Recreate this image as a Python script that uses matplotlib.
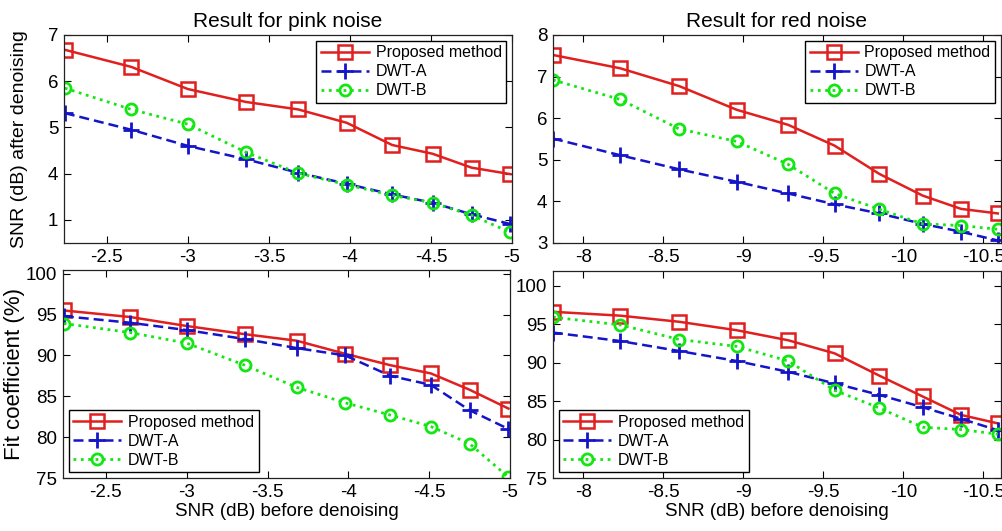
import numpy as np
import matplotlib
matplotlib.use("Agg")
import matplotlib.pyplot as plt

plt.rcParams["font.family"] = ["Liberation Sans", "DejaVu Sans"]

# input SNR (dB) for each noise type
snr_pink = [-2.24, -2.65, -3.0, -3.36, -3.68, -3.98, -4.26, -4.51, -4.75, -4.99]
snr_red = [-7.81, -8.23, -8.6, -8.96, -9.28, -9.57, -9.85, -10.12, -10.36, -10.59]

# output SNR (dB) after denoising
pink_snr_prop = [6.68, 6.31, 5.83, 5.55, 5.39, 5.10, 4.62, 4.43, 4.13, 3.99]
pink_snr_a = [5.31, 4.95, 4.60, 4.31, 4.02, 3.78, 3.55, 3.37, 3.12, 2.91]
pink_snr_b = [5.85, 5.39, 5.07, 4.46, 4.01, 3.76, 3.53, 3.37, 3.10, 2.73]

red_snr_prop = [7.52, 7.20, 6.77, 6.20, 5.84, 5.34, 4.66, 4.14, 3.82, 3.71]
red_snr_a = [5.51, 5.11, 4.77, 4.47, 4.19, 3.93, 3.71, 3.46, 3.27, 3.06]
red_snr_b = [6.92, 6.45, 5.74, 5.44, 4.89, 4.19, 3.81, 3.46, 3.42, 3.33]

# fit coefficient (%)
pink_fit_prop = [95.5, 94.7, 93.6, 92.6, 91.8, 90.2, 88.8, 87.8, 85.8, 83.5]
pink_fit_a = [94.8, 94.0, 93.1, 92.0, 90.9, 90.0, 87.5, 86.4, 83.3, 81.0]
pink_fit_b = [93.9, 92.8, 91.5, 88.8, 86.1, 84.2, 82.7, 81.3, 79.2, 75.1]

red_fit_prop = [96.6, 96.1, 95.3, 94.2, 92.9, 91.2, 88.3, 85.6, 83.2, 82.1]
red_fit_a = [93.9, 92.8, 91.5, 90.2, 88.8, 87.3, 85.8, 84.2, 82.7, 81.2]
red_fit_b = [95.9, 94.9, 93.0, 92.1, 90.2, 86.4, 84.1, 81.6, 81.3, 80.7]

labels = ["Proposed method", "DWT-A", "DWT-B"]
pink_xticks = [-2.5, -3, -3.5, -4, -4.5, -5]
pink_xticklabels = ["-2.5", "-3", "-3.5", "-4", "-4.5", "-5"]
red_xticks = [-8, -8.5, -9, -9.5, -10, -10.5]
red_xticklabels = ["-8", "-8.5", "-9", "-9.5", "-10", "-10.5"]
pink_yticks = [3, 4, 5, 6, 7]
pink_yticklabels = ["1", "4", "5", "6", "7"]
red_yticks = [3, 4, 5, 6, 7, 8]
fit_yticks = [75, 80, 85, 90, 95, 100]

RED = "#e01f1f"
BLUE = "#1414c8"
GREEN = "#14e614"

fig = plt.figure(figsize=(10.03, 5.31), dpi=100)

ax_tl = fig.add_axes([0.0638, 0.5424, 0.4467, 0.3917])
ax_tr = fig.add_axes([0.5513, 0.5424, 0.4467, 0.3917])
ax_bl = fig.add_axes([0.0628, 0.0998, 0.4457, 0.3917])
ax_br = fig.add_axes([0.5513, 0.0998, 0.4467, 0.3898])


def draw(ax, x, ys, legend_loc):
    y1, y2, y3 = ys
    ax.plot(x, y1, "-", color=RED, lw=1.8, marker="s", ms=10, mfc="none",
            mec=RED, mew=1.8, label=labels[0])
    ax.plot(x, y2, "--", color=BLUE, lw=1.8, marker="+", ms=11, mew=2,
            dashes=(4, 2), label=labels[1])
    ax.plot(x, y3, ":", color=GREEN, lw=2, marker="o", ms=8, mfc="none",
            mec=GREEN, mew=2, label=labels[2])
    leg = ax.legend(loc=legend_loc, fontsize=11.5, handlelength=3.0,
                    fancybox=False, edgecolor="black", framealpha=1,
                    borderpad=0.3, labelspacing=0.25, handletextpad=0.4,
                    borderaxespad=0.35)
    leg.get_frame().set_linewidth(1.0)
    ax.tick_params(direction="in", top=True, right=True, labelsize=13.5,
                   length=5, width=0.8, pad=4)
    for s in ax.spines.values():
        s.set_linewidth(0.9)
        s.set_color("#222222")


draw(ax_tl, snr_pink, (pink_snr_prop, pink_snr_a, pink_snr_b), "upper right")
draw(ax_tr, snr_red, (red_snr_prop, red_snr_a, red_snr_b), "upper right")
draw(ax_bl, snr_pink, (pink_fit_prop, pink_fit_a, pink_fit_b), "lower left")
draw(ax_br, snr_red, (red_fit_prop, red_fit_a, red_fit_b), "lower left")

for ax in (ax_tl, ax_bl):
    ax.set_xlim(-2.235, -5.0)
    ax.set_xticks(pink_xticks)
    ax.set_xticklabels(pink_xticklabels)
for ax in (ax_tr, ax_br):
    ax.set_xlim(-7.81, -10.61)
    ax.set_xticks(red_xticks)
    ax.set_xticklabels(red_xticklabels)

ax_tl.set_ylim(2.5, 7)
ax_tl.set_yticks(pink_yticks)
ax_tl.set_yticklabels(pink_yticklabels)
ax_tr.set_ylim(3, 8)
ax_tr.set_yticks(red_yticks)
ax_bl.set_ylim(75, 100.45)
ax_bl.set_yticks(fit_yticks)
ax_br.set_ylim(75, 101.9)
ax_br.set_yticks(fit_yticks)

ax_tl.set_title("Result for pink noise", fontsize=15, pad=6)
ax_tr.set_title("Result for red noise", fontsize=15, pad=6)
ax_tl.set_ylabel("SNR (dB) after denoising", fontsize=14)
ax_tl.yaxis.set_label_coords(-0.08, 0.5)
ax_bl.set_ylabel("Fit coefficient (%)", fontsize=16)
ax_bl.yaxis.set_label_coords(-0.085, 0.5)
ax_bl.set_xlabel("SNR (dB) before denoising", fontsize=13.5, labelpad=2)
ax_br.set_xlabel("SNR (dB) before denoising", fontsize=13.5, labelpad=2)

fig.savefig("out.png", dpi=100)
